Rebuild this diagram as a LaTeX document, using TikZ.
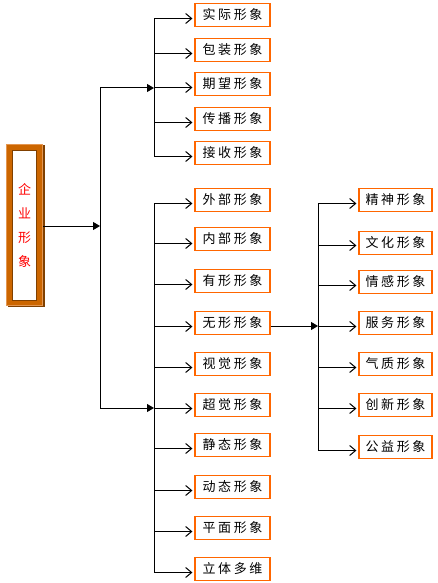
\documentclass[tikz,border=0pt]{standalone}
\usepackage{fontspec}
\newfontfamily\cjk[LetterSpace=20]{Noto Sans CJK SC}
\newfontfamily\cjkplain{Noto Sans CJK SC}
\usetikzlibrary{calc, arrows.meta, positioning}
\definecolor{boxorange}{RGB}{255,102,0}
\definecolor{framebrown}{RGB}{204,102,0}
\definecolor{framedark}{RGB}{128,64,0}
\definecolor{framelight}{RGB}{228,150,80}
\tikzset{
  item/.style={draw=boxorange, line width=1.2pt, fill=white, minimum width=75pt,
    minimum height=23pt, inner sep=0pt, font=\cjk\fontsize{13pt}{15pt}\selectfont},
  leaf/.style={line width=1pt, -{Straight Barb[length=6pt,width=10pt]}, shorten >=2pt},
  feed/.style={line width=1pt, -{Triangle[length=7pt,width=8pt]}},
  spine/.style={line width=1pt}
}
\begin{document}
\begin{tikzpicture}[x=1pt,y=-1pt]
        \useasboundingbox (0,0) rectangle (437,583);

        % left title frame
        \node[fill=framedark, minimum width=37pt, minimum height=162pt, inner sep=0pt] (shadow) at (26,226) {};
        \node[fill=framebrown, draw=framelight, line width=1pt, minimum width=36pt, minimum height=161pt, inner sep=0pt] (logo) at (24.5,225) {};
        \node[fill=white, draw=framedark, line width=1pt, minimum width=24pt, minimum height=150pt, inner sep=0pt] (pane) at (logo) {};
        \node[text=red, align=center, font=\cjkplain\fontsize{13pt}{24pt}\selectfont] (title) at (pane) {企\\业\\形\\象};

        % trunk
        \coordinate (hub) at (100,226);
        \coordinate (hubT) at (100,88);
        \coordinate (hubM) at (100,408);
        \draw[feed] (logo.east |- hub) -- (hub);
        \draw[spine] (hubT) -- (hubM);

        % upper group
        \coordinate (spT) at (154,88);
        \draw[feed] (hubT) -- (spT);
        \draw[spine] (154,19) -- (154,156);
        \node[item] (t1) at (232.5,15) {实际形象};
        \node[item] (t2) at (232.5,50) {包装形象};
        \node[item] (t3) at (232.5,84) {期望形象};
        \node[item] (t4) at (232.5,119) {传播形象};
        \node[item] (t5) at (232.5,153) {接收形象};
        \draw[leaf] ($(spT |- t1.west)+(0,3.5)$) -- ($(t1.west)+(0,3.5)$);
        \draw[leaf] ($(spT |- t2.west)+(0,3.5)$) -- ($(t2.west)+(0,3.5)$);
        \draw[leaf] ($(spT |- t3.west)+(0,3.5)$) -- ($(t3.west)+(0,3.5)$);
        \draw[leaf] ($(spT |- t4.west)+(0,3.5)$) -- ($(t4.west)+(0,3.5)$);
        \draw[leaf] ($(spT |- t5.west)+(0,3.5)$) -- ($(t5.west)+(0,3.5)$);

        % middle group
        \coordinate (spM) at (154,408);
        \draw[feed] (hubM) -- (spM);
        \draw[spine] (154,203) -- (154,572);
        \node[item] (m1) at (232.5,200) {外部形象};
        \node[item] (m2) at (232.5,239) {内部形象};
        \node[item] (m3) at (232.5,281) {有形形象};
        \node[item] (m4) at (232.5,323) {无形形象};
        \node[item] (m5) at (232.5,364) {视觉形象};
        \node[item] (m6) at (232.5,405) {超觉形象};
        \node[item] (m7) at (232.5,445) {静态形象};
        \node[item] (m8) at (232.5,487) {动态形象};
        \node[item] (m9) at (232.5,528) {平面形象};
        \node[item] (m10) at (232.5,569) {立体多维};
        \draw[leaf] ($(spM |- m1.west)+(0,3.5)$) -- ($(m1.west)+(0,3.5)$);
        \draw[leaf] ($(spM |- m2.west)+(0,4.5)$) -- ($(m2.west)+(0,4.5)$);
        \draw[leaf] ($(spM |- m3.west)+(0,3.5)$) -- ($(m3.west)+(0,3.5)$);
        \draw[leaf] ($(spM |- m4.west)+(0,3.5)$) -- ($(m4.west)+(0,3.5)$);
        \draw[leaf] ($(spM |- m5.west)+(0,3.5)$) -- ($(m5.west)+(0,3.5)$);
        \draw[leaf] ($(spM |- m6.west)+(0,3.5)$) -- ($(m6.west)+(0,3.5)$);
        \draw[leaf] ($(spM |- m7.west)+(0,3.5)$) -- ($(m7.west)+(0,3.5)$);
        \draw[leaf] ($(spM |- m8.west)+(0,3.5)$) -- ($(m8.west)+(0,3.5)$);
        \draw[leaf] ($(spM |- m9.west)+(0,3.5)$) -- ($(m9.west)+(0,3.5)$);
        \draw[leaf] ($(spM |- m10.west)+(0,3.5)$) -- ($(m10.west)+(0,3.5)$);

        % right group
        \coordinate (spR) at (318,326);
        \draw[feed] ($(m4.east)+(0,3)$) -- (spR);
        \draw[spine] (318,204) -- (318,450);
        \node[item, minimum width=73pt] (r1) at (395.5,200) {精神形象};
        \node[item, minimum width=73pt] (r2) at (395.5,243) {文化形象};
        \node[item, minimum width=73pt] (r3) at (395.5,282) {情感形象};
        \node[item, minimum width=73pt] (r4) at (395.5,323) {服务形象};
        \node[item, minimum width=73pt] (r5) at (395.5,364) {气质形象};
        \node[item, minimum width=73pt] (r6) at (395.5,405) {创新形象};
        \node[item, minimum width=73pt] (r7) at (395.5,447) {公益形象};
        \draw[leaf] ($(spR |- r1.west)+(0,3.5)$) -- ($(r1.west)+(0,3.5)$);
        \draw[leaf] ($(spR |- r2.west)+(0,2.5)$) -- ($(r2.west)+(0,2.5)$);
        \draw[leaf] ($(spR |- r3.west)+(0,3.5)$) -- ($(r3.west)+(0,3.5)$);
        \draw[leaf] ($(spR |- r4.west)+(0,3.5)$) -- ($(r4.west)+(0,3.5)$);
        \draw[leaf] ($(spR |- r5.west)+(0,3.5)$) -- ($(r5.west)+(0,3.5)$);
        \draw[leaf] ($(spR |- r6.west)+(0,3.5)$) -- ($(r6.west)+(0,3.5)$);
        \draw[leaf] ($(spR |- r7.west)+(0,3.5)$) -- ($(r7.west)+(0,3.5)$);
\end{tikzpicture}
\end{document}
